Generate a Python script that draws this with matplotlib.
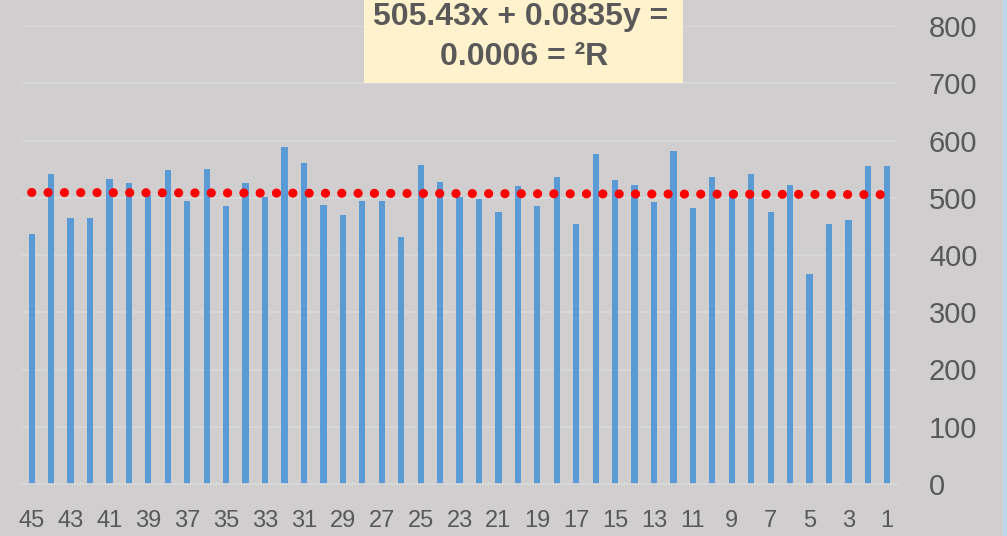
import numpy as np
import matplotlib.pyplot as plt
from matplotlib.patches import Rectangle

# categories 1..45 (axis is drawn reversed, 45 on the left)
categories = list(range(1, 46))
values = [556, 556, 462, 454, 367, 523, 475, 541, 503, 536,
          482, 581, 493, 523, 531, 576, 454, 536, 485, 521,
          475, 498, 502, 528, 558, 432, 495, 495, 470, 488,
          561, 589, 502, 526, 485, 551, 495, 548, 505, 526,
          533, 465, 465, 541, 437]
tick_labels = [str(c) for c in categories[::2]]
y_ticks = [0, 100, 200, 300, 400, 500, 600, 700, 800]

# linear trendline as shown in the label
trend_slope = 0.0835
trend_intercept = 505.43
eq_line1 = "505.43x + 0.0835y ="
eq_line2 = "0.0006 = ²R"

bg = "#D0CECE"
text_col = "#595959"

plt.rcParams["font.family"] = ["Liberation Sans", "DejaVu Sans"]

fig = plt.figure(figsize=(10.07, 5.36), dpi=100, facecolor=bg)
ax = fig.add_axes([22 / 1007, 52 / 536, 875 / 1007, 458 / 536])
ax.set_facecolor(bg)

x = np.array(categories)
ax.bar(x, values, width=0.32, color="#5B9BD5", zorder=2)

# draw from the left end (45) so the dot pattern starts there
xt = np.array([x.max(), x.min()])
ax.plot(xt, trend_slope * xt + trend_intercept, color="#FF0000", lw=6.6,
        linestyle=(0, (0.01, 1.77)), dash_capstyle="round", zorder=3)

ax.set_xlim(45.5, 0.5)
ax.set_ylim(0, 800)
ax.set_xticks(categories[::2])
ax.set_xticklabels(tick_labels)
ax.set_yticks(y_ticks)

ax.yaxis.tick_right()
ax.grid(axis="y", color="#DADADA", lw=1.2, zorder=0)
for s in ["top", "left", "right"]:
    ax.spines[s].set_visible(False)
ax.spines["bottom"].set_color("#D9D9D9")
ax.spines["bottom"].set_linewidth(1.2)
ax.tick_params(axis="x", length=0, pad=19, labelsize=17, colors=text_col)
ax.tick_params(axis="y", length=0, pad=23, labelsize=21, colors=text_col)

# equation box
fig.patches.append(Rectangle((364 / 1007, 1 - 83 / 536), 319 / 1007, 83 / 536,
                             transform=fig.transFigure, facecolor="#FFF2CC",
                             edgecolor="none", zorder=5))
fig.text(521 / 1007, 1 - 17 / 536, eq_line1, ha="center", va="center",
         fontsize=23, fontweight="bold", color=text_col, zorder=6)
fig.text(524 / 1007, 1 - 57 / 536, eq_line2, ha="center", va="center",
         fontsize=23, fontweight="bold", color=text_col, zorder=6)

# window border strip on the right
fig.patches.append(Rectangle((1003 / 1007, 0), 4 / 1007, 1, transform=fig.transFigure,
                             facecolor="#BDD7EE", edgecolor="none"))

fig.savefig("out.png", dpi=100, facecolor=bg)
